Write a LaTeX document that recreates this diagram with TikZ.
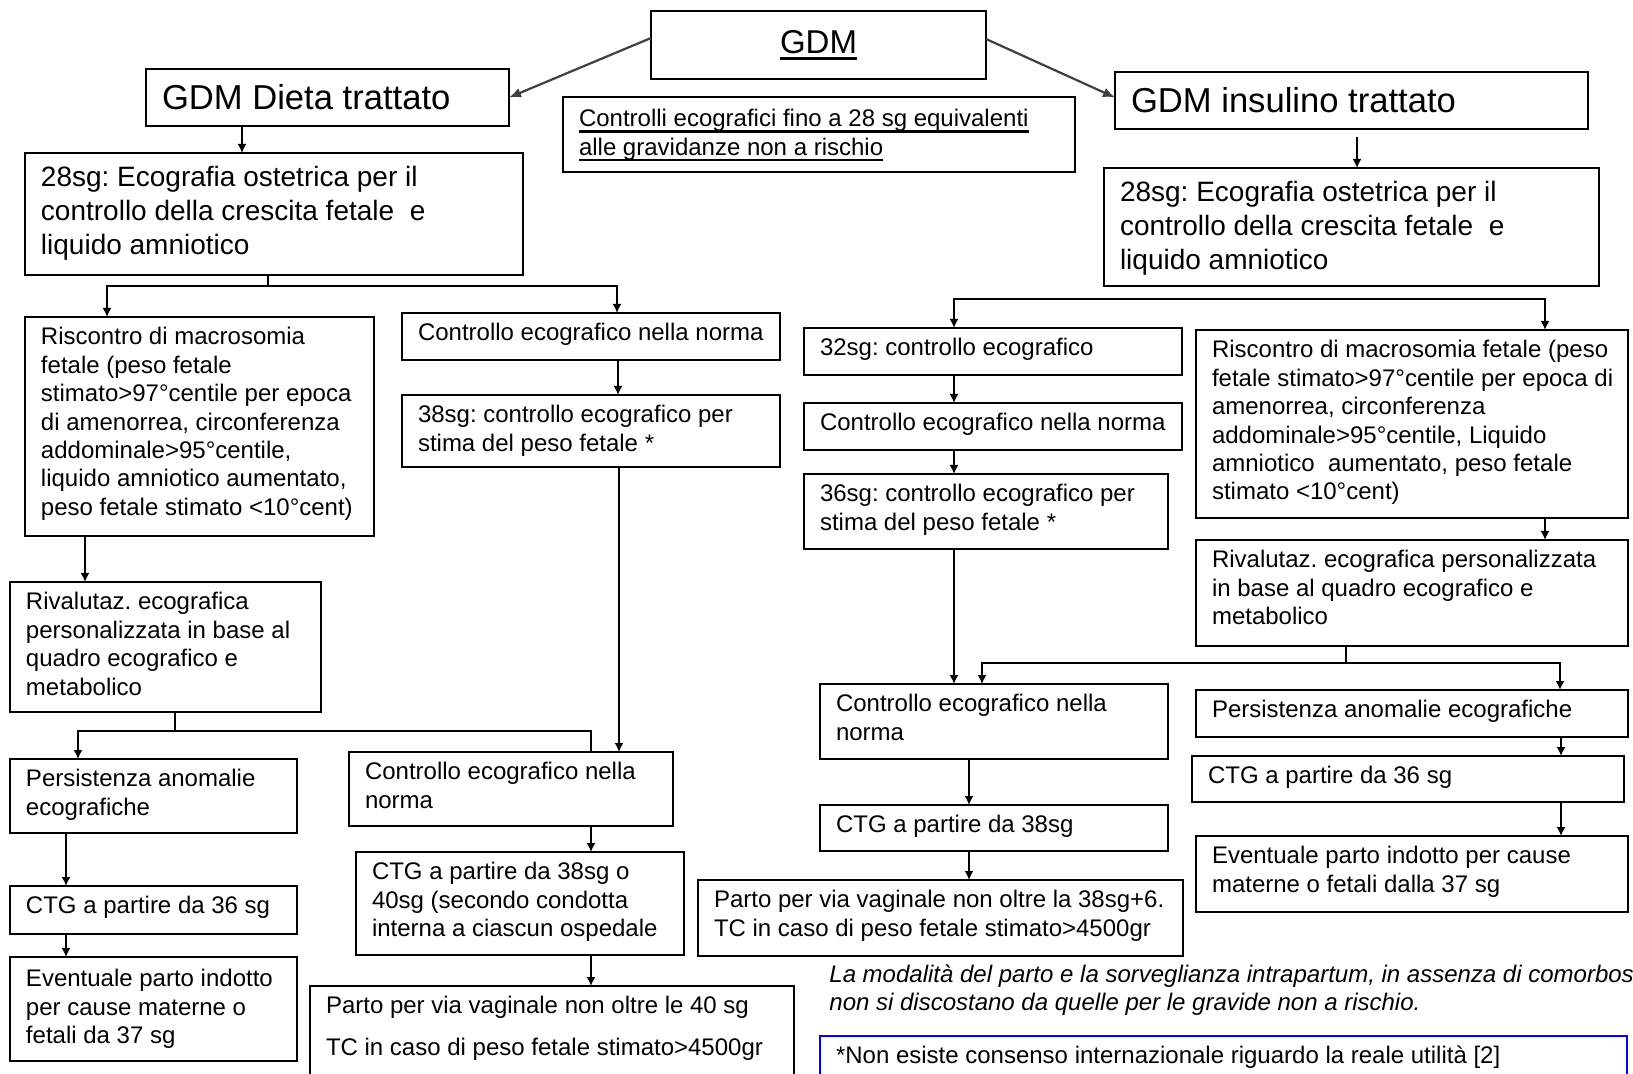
\documentclass[tikz,border=0pt]{standalone}
\usepackage{fontspec}
\setmainfont{Liberation Sans}
\usetikzlibrary{arrows.meta,calc}
\frenchspacing
\newsavebox\ulbox
\newcommand\myul[1]{\leavevmode\sbox\ulbox{#1}\rlap{\rule[-3pt]{\wd\ulbox}{1.3pt}}\usebox\ulbox}
\newcommand\fbody{\fontsize{12pt}{14.2pt}\selectfont}
\newcommand\fsg{\fontsize{14pt}{17pt}\selectfont}
\newcommand\ftitle{\fontsize{17.3pt}{20pt}\selectfont}
\newcommand\fgdm{\fontsize{16.5pt}{20pt}\selectfont}
\tikzset{
  box/.style={draw=black, line width=1.4pt, inner sep=0pt, outer sep=0pt},
  conn/.style={line width=1.1pt, line cap=rect},
  arr/.style={conn, -{Latex[length=4.5pt,width=4.5pt]}},
  diag/.style={line width=1.1pt, draw=black!75, -{Latex[length=6pt,width=5pt]}}
}
% \bx[style]{name}{left}{top}{right}{bottom}{toppad}{font}{text}
\newcommand\bx[9][]{\node[box,#1,anchor=north west] (#2) at (#3,#4) {\parbox[c][\dimexpr(#6pt-#4pt)/2\relax][t]{\dimexpr(#5pt-#3pt)/2\relax}{#8\frenchspacing\vspace*{#7}\raggedright\leftskip=8pt\relax\strut #9\par}};}
% \bxc{name}{left}{top}{right}{bottom}{font}{text}
\newcommand\bxc[7]{\node[box,anchor=north west] (#1) at (#2,#3) {\parbox[c][\dimexpr(#5pt-#3pt)/2\relax][c]{\dimexpr(#4pt-#2pt)/2\relax}{#6\raggedright\leftskip=8pt\relax #7\par}};}
% vertical arrow at x
\newcommand\va[4][arr]{\coordinate (vx) at (#2,0); \draw[#1] (#3 -| vx) -- (#4 -| vx);}
\begin{document}
\begin{tikzpicture}[x=0.5pt,y=-0.5pt]
\useasboundingbox (0,0) rectangle (1633,1074);
\fill[white] (0,0) rectangle (1633,1074);
\clip (0,0) rectangle (1633,1074);

% top
\node[box, minimum width=167.5pt, minimum height=34pt, anchor=north west, font=\fgdm] (gdm) at (651,11) {\myul{GDM}};
\bxc{dieta}{146}{69}{509}{126}{\ftitle}{GDM Dieta trattato}
\bxc{ins}{1115}{72}{1588}{129}{\ftitle}{GDM insulino trattato}
\bx{ctrl28}{563}{97}{1075}{172}{5pt}{\fbody}{\myul{Controlli ecografici fino a 28 sg equivalenti}\\\myul{alle gravidanze non a rischio}}

% left branch
\bx{sgL}{25}{153}{523}{275}{5pt}{\fsg}{28sg: Ecografia ostetrica per il\\controllo della crescita fetale \ e\\liquido amniotico}
\bx{riscL}{25}{317}{374}{536}{4pt}{\fbody}{Riscontro di macrosomia\\fetale (peso fetale\\stimato>97°centile per epoca\\di amenorrea, circonferenza\\addominale>95°centile,\\liquido amniotico aumentato,\\peso fetale stimato <10°cent)}
\bx{ctrlA}{402}{313}{780}{360}{4pt}{\fbody}{Controllo ecografico nella norma}
\bx{c38A}{402}{395}{780}{467}{4pt}{\fbody}{38sg: controllo ecografico per\\stima del peso fetale *}
\bx{rivL}{10}{582}{321}{712}{4pt}{\fbody}{Rivalutaz. ecografica\\personalizzata in base al\\quadro ecografico e\\metabolico}
\bx{persL}{10}{759}{297}{833}{4pt}{\fbody}{Persistenza anomalie\\ecografiche}
\bx{ctgL}{10}{886}{297}{934}{4pt}{\fbody}{CTG a partire da 36 sg}
\bx{evL}{10}{957}{297}{1061}{5pt}{\fbody}{Eventuale parto indotto\\per cause materne o\\fetali da 37 sg}
\bx{ctrlB}{349}{752}{673}{826}{4pt}{\fbody}{Controllo ecografico nella\\norma}
\bx{ctgB}{356}{852}{684}{955}{4pt}{\fbody}{CTG a partire da 38sg o\\40sg (secondo condotta\\interna a ciascun ospedale}
\bx{partoB}{310}{986}{794}{1110}{4pt}{\fbody}{Parto per via vaginale non oltre le 40 sg\\[6.8pt]TC in caso di peso fetale stimato>4500gr}

% right branch
\bx{sgR}{1104}{168}{1599}{286}{5pt}{\fsg}{28sg: Ecografia ostetrica per il\\controllo della crescita fetale \ e\\liquido amniotico}
\bx{c32}{804}{328}{1182}{375}{4pt}{\fbody}{32sg: controllo ecografico}
\bx{ctrlR1}{804}{403}{1182}{450}{4pt}{\fbody}{Controllo ecografico nella norma}
\bx{c36}{804}{474}{1168}{549}{4pt}{\fbody}{36sg: controllo ecografico per\\stima del peso fetale *}
\bx{riscR}{1196}{330}{1628}{518}{4pt}{\fbody}{Riscontro di macrosomia fetale (peso\\fetale stimato>97°centile per epoca di\\amenorrea, circonferenza\\addominale>95°centile, Liquido\\amniotico \ aumentato, peso fetale\\stimato <10°cent)}
\bx{rivR}{1196}{540}{1628}{646}{4pt}{\fbody}{Rivalutaz. ecografica personalizzata\\in base al quadro ecografico e\\metabolico}
\bx{ctrlR2}{820}{684}{1168}{759}{4pt}{\fbody}{Controllo ecografico nella\\norma}
\bx{persR}{1196}{690}{1628}{737}{4pt}{\fbody}{Persistenza anomalie ecografiche}
\bx{ctgR}{1192}{756}{1624}{802}{4pt}{\fbody}{CTG a partire da 36 sg}
\bx{ctg38R}{820}{805}{1168}{851}{4pt}{\fbody}{CTG a partire da 38sg}
\bx{evR}{1196}{836}{1628}{912}{4pt}{\fbody}{Eventuale parto indotto per cause\\materne o fetali dalla 37 sg}
\bx{partoR}{698}{880}{1183}{956}{4pt}{\fbody}{Parto per via vaginale non oltre la 38sg+6.\\TC in caso di peso fetale stimato>4500gr}

% notes
\node[anchor=north west, inner sep=0pt, align=left, font=\fbody\itshape] (ital) at (829,962) {\strut La modalità del parto e la sorveglianza intrapartum, in assenza di comorbosità\\non si discostano da quelle per le gravide non a rischio.};
\bx[draw=blue]{note}{820}{1036}{1627}{1110}{4pt}{\fbody}{*Non esiste consenso internazionale riguardo la reale utilità [2]}

% connectors: top
\draw[diag] ($(gdm.west)+(0,-7)$) -- (dieta.east);
\draw[diag] ($(gdm.east)+(0,-6)$) -- ($(ins.west)+(0,-3)$);
\va{242}{dieta.south}{sgL.north}
\coordinate (x1357) at (1357,0);
\draw[arr] ($(ins.south -| x1357)+(0,9)$) -- (sgR.north -| x1357);

% left connectors
\coordinate (x268) at (268,0);
\coordinate (x107) at (107,0);
\coordinate (x617) at (617,0);
\coordinate (jL) at ($(sgL.south -| x268)+(0,11)$);
\draw[conn] (sgL.south -| jL) -- (jL);
\draw[conn] (jL -| x107) -- (jL -| x617);
\draw[arr] (jL -| x107) -- (riscL.north -| x107);
\draw[arr] (jL -| x617) -- (ctrlA.north -| x617);
\va{618}{ctrlA.south}{c38A.north}
\va{619}{c38A.south}{ctrlB.north}
\va{85}{riscL.south}{rivL.north}
\coordinate (x175) at (175,0);
\coordinate (x78) at (78,0);
\coordinate (x591) at (591,0);
\coordinate (jL2) at ($(rivL.south -| x175)+(0,19)$);
\draw[conn] (rivL.south -| jL2) -- (jL2);
\draw[conn] (jL2 -| x78) -- (jL2 -| x591);
\draw[arr] (jL2 -| x78) -- (persL.north -| x78);
\draw[conn] (jL2 -| x591) -- (ctrlB.north -| x591);
\va{66}{persL.south}{ctgL.north}
\va{66}{ctgL.south}{evL.north}
\va{591}{ctrlB.south}{ctgB.north}
\va{591}{ctgB.south}{partoB.north}

% right connectors
\coordinate (x954) at (954,0);
\coordinate (x1545) at (1545,0);
\coordinate (jR) at ($(sgR.south)+(0,13)$);
\draw[conn] (jR -| x954) -- (jR -| x1545);
\draw[arr] (jR -| x954) -- (c32.north -| x954);
\draw[arr] (jR -| x1545) -- (riscR.north -| x1545);
\va{954}{c32.south}{ctrlR1.north}
\va{954}{ctrlR1.south}{c36.north}
\va{954}{c36.south}{ctrlR2.north}
\va{1545}{riscR.south}{rivR.north}
\coordinate (x1346) at (1346,0);
\coordinate (x982) at (982,0);
\coordinate (x1560) at (1560,0);
\coordinate (jR2) at ($(rivR.south -| x1346)+(0,17)$);
\draw[conn] (rivR.south -| jR2) -- (jR2);
\draw[conn] (jR2 -| x982) -- (jR2 -| x1560);
\draw[arr] (jR2 -| x982) -- (ctrlR2.north -| x982);
\draw[arr] (jR2 -| x1560) -- (persR.north -| x1560);
\va{1561}{persR.south}{ctgR.north}
\va{1561}{ctgR.south}{evR.north}
\va{969}{ctrlR2.south}{ctg38R.north}
\va{969}{ctg38R.south}{partoR.north}
\end{tikzpicture}
\end{document}
